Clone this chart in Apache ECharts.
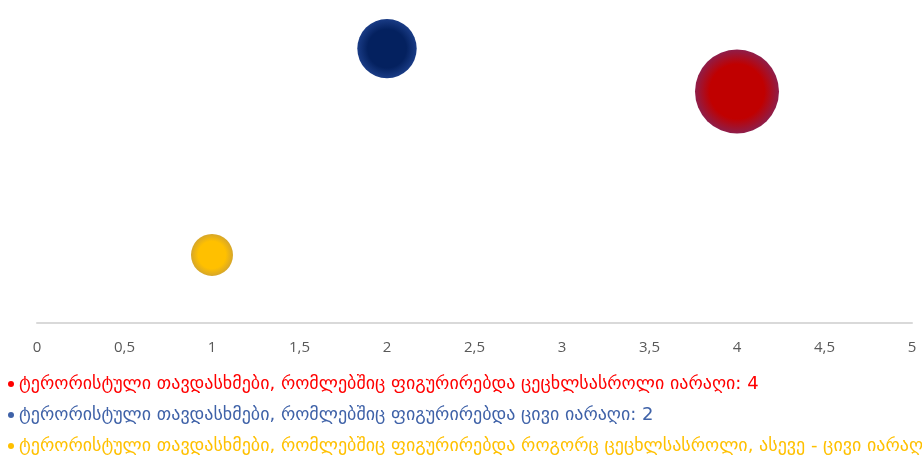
<!DOCTYPE html>
<html>
<head>
<meta charset="utf-8">
<script src="https://cdn.jsdelivr.net/npm/echarts@6/dist/echarts.min.js"></script>
<style>
  html, body { margin: 0; padding: 0; background: #fff; }
  #chart { width: 922px; height: 462px; }
</style>
</head>
<body>
<div id="chart"></div>
<script>
// series names (legend)
var names = [
  'ტერორისტული თავდასხმები, რომლებშიც ფიგურირებდა ცეცხლსასროლი იარაღი: 4',
  'ტერორისტული თავდასხმები, რომლებშიც ფიგურირებდა ცივი იარაღი: 2',
  'ტერორისტული თავდასხმები, რომლებშიც ფიგურირებდა როგორც ცეცხლსასროლი, ასევე - ცივი იარაღი: 1'
]
// x, y, bubble size per series
var xValues = [4, 2, 1]
var yValues = [3.4, 4.03, 1]
var sizes = [4, 2, 1]
var textColors = ['#FF0000', '#3F62A8', '#FFC000']
var centerColors = ['#C00000', '#04215F', '#FFC000']
var edgeColors = ['#8E1E4A', '#1A3C86', '#D6A62A']

var myChart = echarts.init(document.getElementById('chart'))

var series = names.map(function (n, i) {
  return {
    name: n,
    type: 'scatter',
    data: [[xValues[i], yValues[i], sizes[i]]],
    symbolSize: function (d) { return 42 * Math.sqrt(d[2]) },
    itemStyle: {
      color: {
        type: 'radial', x: 0.5, y: 0.5, r: 0.5,
        colorStops: [
          { offset: 0, color: centerColors[i] },
          { offset: 0.65, color: centerColors[i] },
          { offset: 1, color: edgeColors[i] }
        ]
      },
      opacity: 1
    },
    emphasis: { disabled: true }
  }
})

myChart.setOption({
  animation: false,
  grid: { left: 37, right: 10, top: 3, bottom: 139 },
  xAxis: {
    type: 'value',
    min: 0, max: 5, interval: 0.5,
    axisLine: { lineStyle: { color: '#D9D9D9', width: 2 } },
    axisTick: { show: false },
    splitLine: { show: false },
    axisLabel: {
      color: '#595959', fontSize: 15, margin: 17,
      fontFamily: 'Open Sans, sans-serif',
      formatter: function (v) { return String(v).replace('.', ',') }
    }
  },
  yAxis: {
    type: 'value', min: 0, max: 4.7, show: false,
    splitLine: { show: false }
  },
  legend: {
    orient: 'vertical',
    left: 3, top: 370,
    icon: 'circle',
    itemWidth: 6, itemHeight: 6,
    itemGap: 13,
    data: names.map(function (n, i) {
      return { name: n, itemStyle: { color: textColors[i] }, textStyle: { color: textColors[i] } }
    }),
    textStyle: { fontSize: 18, fontFamily: 'DejaVu Sans, sans-serif' }
  },
  series: series
})
</script>
</body>
</html>
